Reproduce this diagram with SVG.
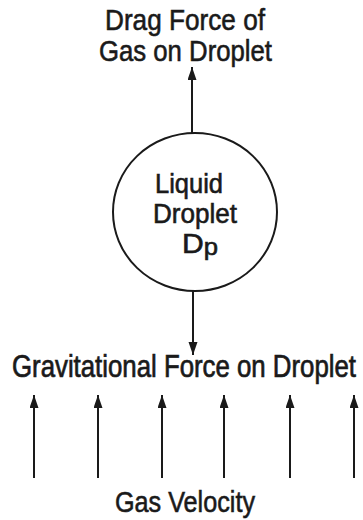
<svg xmlns="http://www.w3.org/2000/svg" width="363" height="520" viewBox="0 0 363 520">
<defs>
<style>
.t{font-family:"Liberation Sans",Arial,sans-serif;fill:#1a1a1a;stroke:#1a1a1a;stroke-width:0.6;text-anchor:middle}
.c{stroke:#1a1a1a;stroke-width:2;fill:none}
.n{stroke:#1a1a1a;stroke-width:2;fill:#fff}
</style>
<marker id="ah" markerUnits="userSpaceOnUse" markerWidth="14" markerHeight="10" refX="13" refY="4.5" orient="auto">
<path d="M0,0 L13,4.5 L0,9 z" fill="#1a1a1a"/>
</marker>
</defs>
<rect width="363" height="520" fill="#fff"/>
<g id="connectors">
<line class="c" x1="192" y1="133" x2="192" y2="67" marker-end="url(#ah)"/>
<line class="c" x1="193" y1="291" x2="193" y2="355" marker-end="url(#ah)"/>
<line class="c" x1="34" y1="478" x2="34" y2="395" marker-end="url(#ah)"/>
<line class="c" x1="98" y1="478" x2="98" y2="395" marker-end="url(#ah)"/>
<line class="c" x1="162" y1="478" x2="162" y2="395" marker-end="url(#ah)"/>
<line class="c" x1="224" y1="478" x2="224" y2="395" marker-end="url(#ah)"/>
<line class="c" x1="290" y1="478" x2="290" y2="395" marker-end="url(#ah)"/>
<line class="c" x1="354" y1="478" x2="354" y2="395" marker-end="url(#ah)"/>
</g>
<g id="drag-label">
<text class="t" x="185" y="30" font-size="30" textLength="160" lengthAdjust="spacingAndGlyphs">Drag Force of</text>
<text class="t" x="185.5" y="61" font-size="30" textLength="173" lengthAdjust="spacingAndGlyphs">Gas on Droplet</text>
</g>
<g id="droplet">
<ellipse class="n" cx="195" cy="212" rx="82" ry="79"/>
<text class="t" x="189" y="193" font-size="27" textLength="68" lengthAdjust="spacingAndGlyphs">Liquid</text>
<text class="t" x="195" y="223" font-size="27" textLength="84" lengthAdjust="spacingAndGlyphs">Droplet</text>
<text class="t" x="200" y="253" font-size="27" textLength="36" lengthAdjust="spacingAndGlyphs">D<tspan font-size="23" dy="2">p</tspan></text>
</g>
<g id="gravity-label">
<text class="t" transform="translate(184,377) scale(1,1.19)" x="0" y="0" font-size="26" stroke-width="0.5" textLength="344" lengthAdjust="spacingAndGlyphs">Gravitational Force on Droplet</text>
</g>
<g id="gas-velocity-label">
<text class="t" x="185" y="512" font-size="30" textLength="140" lengthAdjust="spacingAndGlyphs">Gas Velocity</text>
</g>
</svg>
